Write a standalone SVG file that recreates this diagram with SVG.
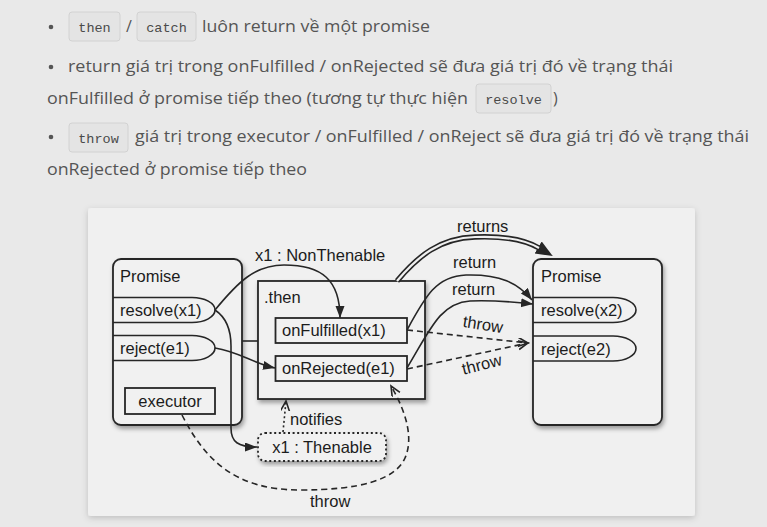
<svg xmlns="http://www.w3.org/2000/svg" width="767" height="527" viewBox="0 0 767 527">
<style>
.txt{font-family:"Open Sans","Noto Sans","DejaVu Sans",sans-serif;font-size:16px;fill:#555}
.code{font-family:"Liberation Mono","DejaVu Sans Mono",monospace;font-size:13.5px;fill:#4a4a4a;text-anchor:middle}
.codebox{fill:#e4e4e4;stroke:#d2d2d2;stroke-width:1}
.d{font-family:"Liberation Sans",Arial,sans-serif;font-size:16.5px;fill:#1c1c1c}
.box{fill:#f1f1f1;stroke:#262626;stroke-width:1.8}
.ln{fill:none;stroke:#262626;stroke-width:1.6}
.dash{stroke-dasharray:6 4}
.dot{stroke-dasharray:2 2.6}
.thick{fill:none;stroke:#262626;stroke-width:5.4}
.inner{fill:none;stroke:#f0f0f0;stroke-width:2.2}
</style>
<defs>
<filter id="sh" x="-10%" y="-10%" width="125%" height="130%">
<feDropShadow dx="1.5" dy="3" stdDeviation="2.2" flood-color="#000" flood-opacity="0.35"/>
</filter>
<filter id="psh" x="-5%" y="-5%" width="110%" height="115%">
<feDropShadow dx="0" dy="2" stdDeviation="3" flood-color="#000" flood-opacity="0.18"/>
</filter>
<marker id="fa" markerUnits="userSpaceOnUse" markerWidth="14" markerHeight="12" refX="12" refY="4.5" orient="auto">
<path d="M0,0 L12,4.5 L0,9 Z" fill="#262626" stroke="none"/>
</marker>
<marker id="oa" markerUnits="userSpaceOnUse" markerWidth="14" markerHeight="12" refX="10" refY="4.5" orient="auto">
<path d="M0,0 L10,4.5 L0,9" fill="none" stroke="#262626" stroke-width="1.6" stroke-dasharray="none"/>
</marker>
<marker id="ba" markerUnits="userSpaceOnUse" markerWidth="20" markerHeight="16" refX="1" refY="7" orient="auto">
<path d="M0,0 L17,7 L0,14 Z" fill="#262626" stroke="none"/>
</marker>
</defs>
<rect width="767" height="527" fill="#e9e9e9"/>

<g id="text">
<circle cx="51" cy="27" r="2.3" fill="#555"/>
<rect class="codebox" x="69" y="12" width="51" height="29" rx="3"/>
<text class="code" x="94.5" y="31.5">then</text>
<text class="txt" x="126" y="32">/</text>
<rect class="codebox" x="137" y="12" width="59" height="29" rx="3"/>
<text class="code" x="166.5" y="31.5">catch</text>
<text class="txt" x="202" y="32" textLength="228" lengthAdjust="spacingAndGlyphs">luôn return về một promise</text>

<circle cx="51" cy="67" r="2.3" fill="#555"/>
<text class="txt" x="68" y="72" textLength="605" lengthAdjust="spacingAndGlyphs">return giá trị trong onFulfilled / onRejected sẽ đưa giá trị đó về trạng thái</text>
<text class="txt" x="47" y="104" textLength="421" lengthAdjust="spacingAndGlyphs">onFulfilled ở promise tiếp theo (tương tự thực hiện</text>
<rect class="codebox" x="476" y="84" width="75" height="29" rx="3"/>
<text class="code" x="513.5" y="103.5">resolve</text>
<text class="txt" x="553" y="104">)</text>

<circle cx="51" cy="137" r="2.3" fill="#555"/>
<rect class="codebox" x="69" y="123" width="59" height="29" rx="3"/>
<text class="code" x="98.5" y="142.5">throw</text>
<text class="txt" x="135" y="142" textLength="614" lengthAdjust="spacingAndGlyphs">giá trị trong executor / onFulfilled / onReject sẽ đưa giá trị đó về trạng thái</text>
<text class="txt" x="47" y="175" textLength="260" lengthAdjust="spacingAndGlyphs">onRejected ở promise tiếp theo</text>
</g>

<rect id="panel" x="88" y="208" width="607" height="308" rx="3" fill="#f0f0f0" filter="url(#psh)"/>

<g id="promise1">
<rect class="box" x="113" y="259" width="129" height="166" rx="8" filter="url(#sh)"/>
<text class="d" x="120" y="282">Promise</text>
<path class="ln" d="M113,297.5 H192 A23,12.5 0 0 1 192,322.5 H113"/>
<text class="d" x="120" y="316">resolve(x1)</text>
<path class="ln" d="M113,335.5 H192 A23,12.5 0 0 1 192,360.5 H113"/>
<text class="d" x="120" y="354">reject(e1)</text>
</g>
<g id="executor">
<rect class="box" x="125" y="388" width="90" height="26"/>
<text class="d" x="170" y="407" text-anchor="middle">executor</text>
</g>

<g id="then">
<rect class="box" x="258" y="281" width="167" height="118" filter="url(#sh)"/>
<text class="d" x="264" y="303">.then</text>
</g>
<g id="onFulfilled">
<rect class="box" x="275.5" y="318" width="131.5" height="25"/>
<text class="d" x="282" y="336">onFulfilled(x1)</text>
</g>
<g id="onRejected">
<rect class="box" x="275.5" y="356" width="131.5" height="25"/>
<text class="d" x="282" y="374">onRejected(e1)</text>
</g>

<g id="promise2">
<rect class="box" x="533" y="259" width="129" height="166" rx="8" filter="url(#sh)"/>
<text class="d" x="541" y="282">Promise</text>
<path class="ln" d="M533,297.5 H613 A23,12.5 0 0 1 613,322.5 H533"/>
<text class="d" x="541" y="316">resolve(x2)</text>
<path class="ln" d="M533,336 H613 A23,12.5 0 0 1 613,361 H533"/>
<text class="d" x="541" y="355">reject(e2)</text>
</g>

<g id="thenable">
<rect class="box dot" x="258" y="433" width="128" height="28" rx="7" filter="url(#sh)"/>
<text class="d" x="322" y="453" text-anchor="middle">x1 : Thenable</text>
</g>

<g id="connectors">
<line class="ln" x1="242" y1="341" x2="258" y2="341"/>
<path class="ln" d="M215,310 C238,282 255,265 284,265 C322,265 340,280 340,318" marker-end="url(#fa)"/>
<path class="ln" d="M215,310 C227,318 231,330 231,346 L231,428 C231,442 238,447 257,447" marker-end="url(#fa)"/>
<path class="ln" d="M215,348 C240,352 252,363 275,368" marker-end="url(#fa)"/>
<path class="thick" d="M397,281 C418,256 440,238 475,237 C500,236 522,238 539,248" marker-end="url(#ba)"/>
<path class="inner" d="M397,281 C418,256 440,238 475,237 C500,236 522,238 539,248"/>
<path class="ln" d="M407,330 C425,297 436,276 466,275 C500,274 518,283 532,300" marker-end="url(#fa)"/>
<path class="ln" d="M407,368 C430,330 440,303 470,301 C497,300 515,302 533,304" marker-end="url(#fa)"/>
<path class="ln dash" d="M407,330 L528,343" marker-end="url(#oa)"/>
<path class="ln dash" d="M407,369 L528,343" marker-end="url(#oa)"/>
<path class="ln dot" d="M283,432 L286,401" marker-end="url(#oa)"/>
<path class="ln dash" d="M182,415 C205,460 235,490 300,490 C360,490 395,480 405,458 C413,440 408,415 391,386" marker-end="url(#oa)"/>
<text class="d" x="255" y="261" font-size="16">x1 : NonThenable</text>
<text class="d" x="457" y="232" font-size="16">returns</text>
<text class="d" x="453" y="268" font-size="16">return</text>
<text class="d" x="452" y="295" font-size="16">return</text>
<text class="d" x="483" y="330" font-size="16" text-anchor="middle" transform="rotate(9 483 325)">throw</text>
<text class="d" x="482" y="370" font-size="16" text-anchor="middle" transform="rotate(-14 482 365)">throw</text>
<text class="d" x="290" y="425" font-size="16">notifies</text>
<text class="d" x="310" y="507" font-size="16">throw</text>
</g>
</svg>
